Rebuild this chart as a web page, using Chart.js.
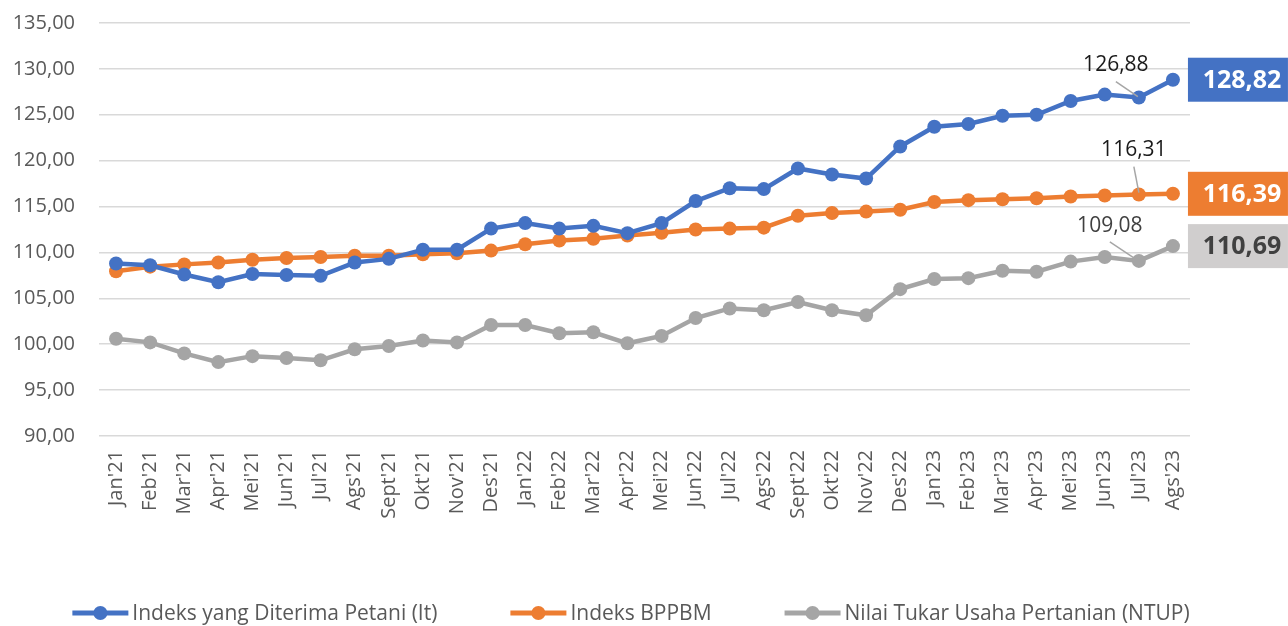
<!DOCTYPE html>
<html>
<head>
<meta charset="utf-8">
<script src="https://cdn.jsdelivr.net/npm/chart.js@4.4.0/dist/chart.umd.min.js"></script>
<style>
  html, body { margin: 0; padding: 0; background: #fff; }
</style>
</head>
<body>
<canvas id="myChart" width="1288" height="626"></canvas>
<script>
// monthly indices, Jan 2021 - Aug 2023
const months = ["Jan'21", "Feb'21", "Mar'21", "Apr'21", "Mei'21", "Jun'21", "Jul'21", "Ags'21", "Sept'21", "Okt'21", "Nov'21", "Des'21",
  "Jan'22", "Feb'22", "Mar'22", "Apr'22", "Mei'22", "Jun'22", "Jul'22", "Ags'22", "Sept'22", "Okt'22", "Nov'22", "Des'22",
  "Jan'23", "Feb'23", "Mar'23", "Apr'23", "Mei'23", "Jun'23", "Jul'23", "Ags'23"];
const indeksIt = [108.80, 108.60, 107.60, 106.75, 107.65, 107.55, 107.45, 108.90, 109.30, 110.30, 110.30, 112.60,
  113.20, 112.60, 112.90, 112.10, 113.20, 115.60, 117.00, 116.90, 119.15, 118.50, 118.05, 121.55,
  123.70, 124.00, 124.90, 125.00, 126.50, 127.20, 126.88, 128.82];
const indeksBppbm = [107.95, 108.45, 108.70, 108.90, 109.20, 109.40, 109.50, 109.65, 109.65, 109.80, 109.90, 110.20,
  110.90, 111.30, 111.50, 111.85, 112.15, 112.50, 112.60, 112.70, 114.00, 114.30, 114.45, 114.65,
  115.50, 115.70, 115.80, 115.90, 116.10, 116.20, 116.31, 116.39];
const ntup = [100.60, 100.20, 99.00, 98.05, 98.70, 98.50, 98.25, 99.45, 99.80, 100.40, 100.20, 102.10,
  102.10, 101.20, 101.30, 100.10, 100.90, 102.85, 103.90, 103.70, 104.60, 103.70, 103.15, 106.00,
  107.10, 107.20, 108.00, 107.90, 109.00, 109.50, 109.08, 110.69];
const seriesNames = ["Indeks yang Diterima Petani (It)", "Indeks BPPBM", "Nilai Tukar Usaha Pertanian (NTUP)"];
const yTicks = [90, 95, 100, 105, 110, 115, 120, 125, 130, 135];

const colors = ['#4472c4', '#ed7d31', '#a5a5a5'];
const boxStyle = [
  { bg: '#4472c4', fg: '#ffffff' },
  { bg: '#ed7d31', fg: '#ffffff' },
  { bg: '#d0cece', fg: '#404040' }
];
// callout text offset and leader line relative to the Jul'23 point
const callout = [
  { tx: -23, ty: -33, x1: -23, y1: -16, x2: -1, y2: -1, color: '#1a1a1a' },
  { tx: -5, ty: -45, x1: -5, y1: -28, x2: 0, y2: -2, color: '#1a1a1a' },
  { tx: -29, ty: -35, x1: -29, y1: -19, x2: -5, y2: -3, color: '#404040' }
];

const fmt = v => v.toFixed(2).replace('.', ',');

const valueLabels = {
  id: 'valueLabels',
  afterDatasetsDraw(chart) {
    const ctx = chart.ctx;
    ctx.save();
    chart.data.datasets.forEach((ds, i) => {
      const meta = chart.getDatasetMeta(i);
      const n = ds.data.length;
      const last = meta.data[n - 1];
      const prev = meta.data[n - 2];

      // boxed value at the last point
      const bx = last.x + 15;
      ctx.fillStyle = boxStyle[i].bg;
      ctx.fillRect(bx, last.y - 22, 100, 44);
      ctx.fillStyle = boxStyle[i].fg;
      ctx.font = 'bold 25px "Open Sans"';
      ctx.textAlign = 'center';
      ctx.textBaseline = 'middle';
      ctx.fillText(fmt(ds.data[n - 1]), bx + 54, last.y + 1);

      // callout for the previous month
      const c = callout[i];
      ctx.strokeStyle = '#a6a6a6';
      ctx.lineWidth = 1.5;
      ctx.beginPath();
      ctx.moveTo(prev.x + c.x1, prev.y + c.y1);
      ctx.lineTo(prev.x + c.x2, prev.y + c.y2);
      ctx.stroke();
      ctx.fillStyle = c.color;
      ctx.font = '21px "Open Sans"';
      ctx.fillText(fmt(ds.data[n - 2]), prev.x + c.tx, prev.y + c.ty);
    });
    ctx.restore();
  }
};

const lineLegend = {
  id: 'lineLegend',
  afterDraw(chart) {
    const ctx = chart.ctx;
    ctx.save();
    ctx.font = '21px "Open Sans"';
    const icon = 56, textGap = 4, itemGap = 73, y = 613;
    const sets = chart.data.datasets;
    const widths = sets.map(ds => ctx.measureText(ds.label).width);
    const total = widths.reduce((a, b) => a + b, 0) + sets.length * (icon + textGap) + (sets.length - 1) * itemGap;
    let x = 631 - total / 2;
    sets.forEach((ds, i) => {
      ctx.strokeStyle = ds.borderColor;
      ctx.lineWidth = 5;
      ctx.beginPath();
      ctx.moveTo(x, y);
      ctx.lineTo(x + icon, y);
      ctx.stroke();
      ctx.fillStyle = ds.borderColor;
      ctx.beginPath();
      ctx.arc(x + icon / 2, y, 7, 0, Math.PI * 2);
      ctx.fill();
      ctx.fillStyle = '#595959';
      ctx.textAlign = 'left';
      ctx.textBaseline = 'middle';
      ctx.fillText(ds.label, x + icon + textGap, y + 1);
      x += icon + textGap + widths[i] + itemGap;
    });
    ctx.restore();
  }
};

const makeSet = (label, data, color) => ({
  label: label,
  data: data,
  borderColor: color,
  backgroundColor: color,
  borderWidth: 4.5,
  pointRadius: 7,
  pointBorderWidth: 0,
  pointBackgroundColor: color,
  tension: 0,
  clip: false
});

const ctx = document.getElementById('myChart').getContext('2d');
const chart = new Chart(ctx, {
  type: 'line',
  data: {
    labels: months,
    datasets: [
      makeSet(seriesNames[0], indeksIt, colors[0]),
      makeSet(seriesNames[1], indeksBppbm, colors[1]),
      makeSet(seriesNames[2], ntup, colors[2])
    ]
  },
  options: {
    responsive: false,
    animation: false,
    layout: { padding: { top: 23, right: 98, bottom: 0, left: 0 } },
    plugins: {
      legend: { display: false },
      tooltip: { enabled: false }
    },
    scales: {
      x: {
        offset: true,
        grid: { display: false },
        border: { display: false },
        ticks: {
          autoSkip: false,
          minRotation: 90,
          maxRotation: 90,
          padding: 6,
          color: '#595959',
          font: { family: 'Open Sans', size: 20 }
        },
        afterFit(scale) { scale.height = 190; }
      },
      y: {
        min: yTicks[0],
        max: yTicks[yTicks.length - 1],
        afterBuildTicks(scale) { scale.ticks = yTicks.map(v => ({ value: v })); },
        // transparent tick marks keep the labels clear of the plot
        grid: { color: '#d9d9d9', lineWidth: 1.5, drawTicks: true, tickLength: 24, tickColor: 'rgba(0,0,0,0)' },
        border: { display: false },
        ticks: {
          padding: 0,
          color: '#595959',
          font: { family: 'Open Sans', size: 20 },
          callback: v => fmt(v)
        },
        afterFit(scale) { scale.width = 99; }
      }
    }
  },
  plugins: [valueLabels, lineLegend]
});
</script>
</body>
</html>
